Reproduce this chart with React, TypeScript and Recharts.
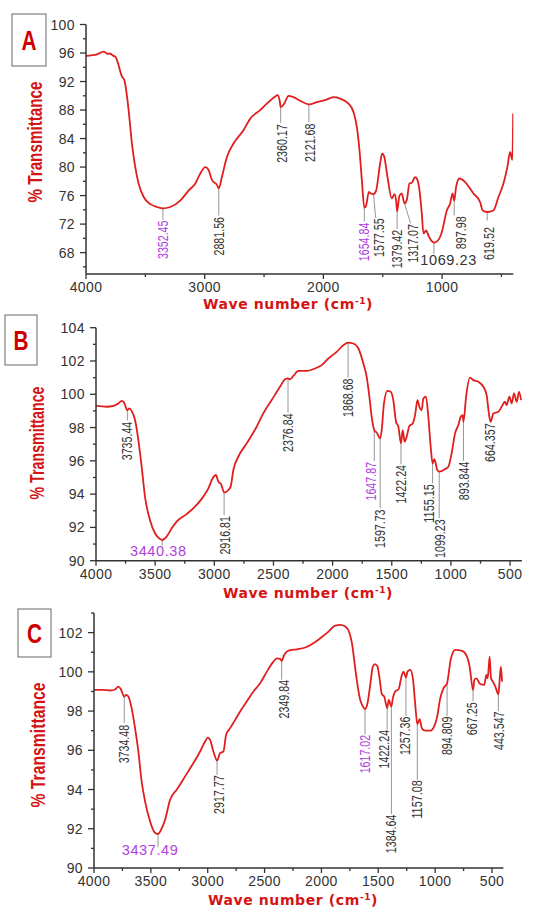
import React from "react";
import { LineChart, Line, XAxis, YAxis, ReferenceLine, ReferenceDot } from "recharts";

const RED = "#e01e1e";
const TITLE_RED = "#d41414";
const PURPLE = "#b03ee0";
const INK = "#333333";
const LEADER = "#8a8a8a";
const FONT = "'Liberation Sans', Arial, sans-serif";

// spectrum A
const A_WN = [
  4000, 3907, 3851, 3820, 3795, 3770, 3753, 3739, 3697, 3677,
  3641, 3613, 3585, 3557, 3514, 3458, 3400, 3352, 3290, 3206,
  3136, 3079, 3037, 2995, 2967, 2939, 2897, 2881, 2855, 2813,
  2757, 2672, 2616, 2532, 2476, 2406, 2386, 2369, 2360, 2330,
  2294, 2251, 2195, 2122, 2055, 1985, 1915, 1859, 1788, 1746,
  1718, 1696, 1676, 1655, 1640, 1617, 1600, 1578, 1556, 1522,
  1505, 1488, 1460, 1424, 1401, 1387, 1379, 1359, 1340, 1317,
  1297, 1275, 1255, 1227, 1213, 1190, 1171, 1157, 1134, 1115,
  1087, 1069, 1030, 1002, 960, 932, 912, 898, 882, 854,
  806, 736, 680, 657, 620, 568, 525, 483, 450, 427,
  408, 401,
];
const A_T = [
  95.6, 95.8, 96.2, 95.9, 95.9, 95.6, 95.5, 95.0, 92.7, 92.2,
  88.0, 83.3, 80.0, 77.7, 75.8, 74.8, 74.4, 74.2, 74.4, 75.3,
  76.7, 77.7, 79.1, 80.0, 79.6, 78.2, 77.5, 77.0, 78.6, 81.4,
  83.3, 85.2, 86.8, 88.0, 88.9, 89.9, 90.1, 89.4, 88.4, 88.9,
  90.0, 89.8, 89.3, 88.8, 89.1, 89.4, 89.8, 89.6, 88.9, 87.7,
  85.6, 82.4, 78.2, 74.3, 74.6, 76.5, 76.3, 76.2, 76.7, 80.5,
  81.9, 81.5, 78.6, 75.6, 76.2, 75.3, 73.8, 76.0, 76.3, 74.9,
  75.4, 77.7, 77.8, 78.6, 78.4, 76.7, 73.5, 70.7, 71.1, 70.4,
  69.6, 69.4, 69.8, 70.9, 73.9, 74.9, 76.3, 75.3, 77.2, 78.4,
  77.9, 76.3, 75.1, 73.9, 73.7, 73.9, 75.8, 77.7, 80.0, 82.1,
  81.0, 87.5,
];

// spectrum B
const B_WN = [
  4000, 3910, 3853, 3811, 3783, 3763, 3735, 3718, 3699, 3670,
  3642, 3614, 3586, 3544, 3501, 3459, 3440, 3403, 3360, 3318,
  3234, 3149, 3093, 3050, 3014, 2986, 2966, 2943, 2917, 2881,
  2862, 2839, 2797, 2726, 2642, 2586, 2515, 2445, 2402, 2377,
  2360, 2332, 2290, 2219, 2149, 2092, 2036, 1966, 1909, 1869,
  1825, 1782, 1740, 1712, 1689, 1670, 1648, 1628, 1598, 1585,
  1566, 1537, 1509, 1487, 1464, 1444, 1422, 1408, 1391, 1374,
  1351, 1323, 1303, 1283, 1267, 1247, 1233, 1211, 1191, 1171,
  1155, 1140, 1115, 1099, 1050, 1022, 994, 965, 937, 917,
  901, 894, 872, 839, 810, 768, 726, 698, 675, 664,
  641, 599, 571, 543, 529, 506, 486, 467, 444, 424,
  407,
];
const B_T = [
  99.3, 99.25, 99.3, 99.45, 99.6, 99.5, 99.05, 99.15, 99.0, 98.45,
  97.25, 95.65, 93.85, 92.45, 91.65, 91.3, 91.25, 91.45, 91.95, 92.35,
  92.8, 93.35, 93.85, 94.35, 94.95, 95.15, 94.75, 94.6, 94.1, 94.25,
  94.45, 95.45, 96.25, 97.05, 98.05, 98.85, 99.65, 100.45, 100.9, 100.95,
  100.9, 101.1, 101.4, 101.4, 101.55, 101.75, 102.15, 102.55, 102.95, 103.1,
  103.05, 102.75, 101.85, 101.05, 99.85, 98.65, 97.85, 97.7, 97.35, 97.85,
  99.45, 100.2, 100.15, 99.65, 98.35, 98.05, 97.05, 97.85, 97.15, 97.45,
  98.1, 98.25, 98.75, 99.65, 99.25, 99.05, 99.75, 99.85, 98.65, 96.85,
  95.85, 96.1, 95.45, 95.35, 95.5, 95.65, 96.45, 97.65, 98.15, 98.65,
  98.75, 98.35, 99.85, 101.0, 100.85, 100.75, 100.45, 99.95, 98.65, 98.35,
  98.85, 98.95, 99.25, 99.55, 99.35, 99.85, 99.45, 100.05, 99.55, 100.15,
  99.65,
];

// spectrum C
const C_WN = [
  4000, 3918, 3859, 3815, 3786, 3765, 3734, 3718, 3698, 3669,
  3639, 3610, 3581, 3551, 3507, 3469, 3437, 3410, 3375, 3331,
  3273, 3199, 3126, 3067, 3023, 3000, 2979, 2950, 2918, 2891,
  2862, 2838, 2803, 2759, 2715, 2657, 2598, 2539, 2480, 2422,
  2393, 2363, 2350, 2328, 2290, 2216, 2143, 2085, 2011, 1938,
  1879, 1835, 1791, 1753, 1732, 1703, 1683, 1659, 1635, 1617,
  1595, 1571, 1548, 1530, 1507, 1489, 1469, 1448, 1422, 1408,
  1385, 1372, 1351, 1322, 1293, 1278, 1257, 1243, 1219, 1196,
  1175, 1157, 1137, 1117, 1087, 1043, 1014, 985, 955, 926,
  895, 885, 861, 823, 764, 720, 697, 667, 655, 638,
  603, 568, 550, 538, 521, 509, 492, 471, 444, 436,
  422, 412,
];
const C_T = [
  99.08, 99.08, 99.05, 99.1, 99.25, 99.13, 98.74, 98.83, 98.74, 98.15,
  97.13, 95.94, 94.41, 93.4, 92.38, 91.83, 91.73, 91.95, 92.46, 93.48,
  93.99, 94.67, 95.35, 95.94, 96.45, 96.65, 96.53, 95.94, 95.48, 95.86,
  95.94, 96.79, 97.13, 97.55, 97.98, 98.49, 99.0, 99.42, 100.01, 100.52,
  100.69, 100.66, 100.56, 100.86, 101.08, 101.15, 101.24, 101.41, 101.71, 102.05,
  102.36, 102.39, 102.31, 101.97, 101.46, 100.18, 99.34, 98.57, 98.23, 98.1,
  98.4, 99.34, 100.27, 100.39, 100.27, 99.67, 98.86, 98.74, 98.15, 98.57,
  98.23, 98.66, 99.0, 99.11, 99.84, 100.01, 99.71, 100.01, 100.1, 99.67,
  98.32, 97.33, 97.59, 97.13, 97.0, 97.0, 97.16, 97.64, 98.66, 99.17,
  99.42, 99.76, 100.69, 101.12, 101.07, 100.78, 100.27, 99.08, 99.59, 99.67,
  99.37, 99.34, 99.84, 99.67, 100.78, 99.67, 99.5, 99.25, 98.86, 99.34,
  100.27, 99.5,
];

// tick values
const A_X_MAJOR = [4000, 3000, 2000, 1000];
const A_X_MINOR = [3500, 2500, 1500, 500];
const A_Y_MAJOR = [68, 72, 76, 80, 84, 88, 92, 96, 100];
const A_Y_MINOR = [66, 70, 74, 78, 82, 86, 90, 94, 98];
const BC_X_MAJOR = [4000, 3500, 3000, 2500, 2000, 1500, 1000, 500];
const BC_X_MINOR = [3750, 3250, 2750, 2250, 1750, 1250, 750];
const B_Y_MAJOR = [90, 92, 94, 96, 98, 100, 102, 104];
const B_Y_MINOR = [91, 93, 95, 97, 99, 101, 103];
const C_Y_MAJOR = [90, 92, 94, 96, 98, 100, 102];
const C_Y_MINOR = [91, 93, 95, 97, 99, 101, 103];

// peak labels: x,y = point on spectrum, ey = end of leader, lx,ly = label anchor
type Ann = { t: string; x: number; y: number; ey: number; lx: number; ly: number; ex?: number; p?: boolean; h?: boolean };

const A_PEAKS: Ann[] = [
  { t: "3352.45", x: 3352, y: 74.2, ey: 72.6, lx: 3352, ly: 72.5, p: true },
  { t: "2881.56", x: 2881, y: 77.0, ey: 73.2, lx: 2881, ly: 73.0 },
  { t: "2360.17", x: 2360, y: 88.4, ey: 86.2, lx: 2352, ly: 86.0 },
  { t: "2121.68", x: 2122, y: 88.8, ey: 86.3, lx: 2118, ly: 86.1 },
  { t: "1654.84", x: 1655, y: 74.3, ey: 72.4, lx: 1658, ly: 72.2, p: true },
  { t: "1577.55", x: 1578, y: 76.2, ey: 72.9, lx: 1530, ly: 72.8, ex: 1560 },
  { t: "1379.42", x: 1379, y: 73.8, ey: 71.3, lx: 1378, ly: 71.2 },
  { t: "1317.07", x: 1317, y: 74.9, ey: 72.1, lx: 1250, ly: 72.0, ex: 1265 },
  { t: "1069.23", x: 1069, y: 69.4, ey: 67.8, lx: 945, ly: 66.3, h: true },
  { t: "897.98", x: 898, y: 75.3, ey: 73.2, lx: 842, ly: 73.1 },
  { t: "619.52", x: 620, y: 73.7, ey: 72.5, lx: 605, ly: 71.6 },
];

const B_PEAKS: Ann[] = [
  { t: "3735.44", x: 3735, y: 99.05, ey: 98.42, lx: 3741, ly: 98.35 },
  { t: "3440.38", x: 3440, y: 91.25, ey: 90.9, lx: 3473, ly: 90.3, h: true, p: true },
  { t: "2916.81", x: 2917, y: 94.1, ey: 92.75, lx: 2915, ly: 92.68 },
  { t: "2376.84", x: 2377, y: 100.95, ey: 98.9, lx: 2383, ly: 98.85 },
  { t: "1868.68", x: 1869, y: 103.1, ey: 101.0, lx: 1875, ly: 100.95 },
  { t: "1647.87", x: 1648, y: 97.85, ey: 96.0, lx: 1678, ly: 95.93, p: true },
  { t: "1597.73", x: 1598, y: 97.35, ey: 93.15, lx: 1600, ly: 93.08 },
  { t: "1422.24", x: 1422, y: 97.05, ey: 95.78, lx: 1425, ly: 95.75 },
  { t: "1155.15", x: 1155, y: 95.85, ey: 94.65, lx: 1191, ly: 94.6 },
  { t: "1099.23", x: 1099, y: 95.35, ey: 92.55, lx: 1092, ly: 92.48 },
  { t: "893.844", x: 894, y: 98.35, ey: 96.0, lx: 895, ly: 95.95 },
  { t: "664.357", x: 664, y: 98.35, ey: 98.3, lx: 669, ly: 98.25 },
];

const C_PEAKS: Ann[] = [
  { t: "3734.48", x: 3734, y: 98.74, ey: 97.4, lx: 3742, ly: 97.3 },
  { t: "3437.49", x: 3437, y: 91.73, ey: 91.05, lx: 3507, ly: 90.65, h: true, p: true },
  { t: "2917.77", x: 2918, y: 95.48, ey: 94.75, lx: 2906, ly: 94.72 },
  { t: "2349.84", x: 2350, y: 100.56, ey: 99.6, lx: 2334, ly: 99.59 },
  { t: "1617.02", x: 1617, y: 98.1, ey: 96.8, lx: 1621, ly: 96.79, p: true },
  { t: "1422.24", x: 1422, y: 98.15, ey: 97.05, lx: 1454, ly: 97.04 },
  { t: "1384.64", x: 1385, y: 98.23, ey: 92.75, lx: 1389, ly: 92.72 },
  { t: "1257.36", x: 1257, y: 99.71, ey: 97.75, lx: 1269, ly: 97.72 },
  { t: "1157.08", x: 1157, y: 97.33, ey: 94.5, lx: 1160, ly: 94.48 },
  { t: "894.809", x: 895, y: 99.42, ey: 97.75, lx: 897, ly: 97.72 },
  { t: "667.25", x: 667, y: 99.08, ey: 98.5, lx: 674, ly: 98.45 },
  { t: "443.547", x: 444, y: 98.86, ey: 98.0, lx: 442, ly: 97.98 },
];

const toRows = (wn: number[], t: number[]) => wn.map((w, i) => ({ wn: w, t: t[i] }));

const XTick = (props: any) => {
  const { x, y, payload, major } = props;
  const isMajor = major.includes(payload.value);
  return (
    <g>
      <line x1={x} x2={x} y1={y} y2={y + (isMajor ? 5 : 3)} stroke={INK} strokeWidth={1.3} />
      {isMajor && (
        <text x={x} y={y + 18} textAnchor="middle" fontSize={14} letterSpacing={0.4} fill={INK} fontFamily={FONT}>
          {payload.value}
        </text>
      )}
    </g>
  );
};

const YTick = (props: any) => {
  const { x, y, payload, major } = props;
  const isMajor = major.includes(payload.value);
  return (
    <g>
      <line x1={x - (isMajor ? 6 : 3)} x2={x} y1={y} y2={y} stroke={INK} strokeWidth={1.3} />
      {isMajor && (
        <text x={x - 11} y={y} dy={5} textAnchor="end" fontSize={14} letterSpacing={0.4} fill={INK} fontFamily={FONT}>
          {payload.value}
        </text>
      )}
    </g>
  );
};

const PeakLabel = ({ cx, cy, a }: { cx: number; cy: number; a: Ann }) => {
  const fill = a.p ? PURPLE : INK;
  if (a.h) {
    return (
      <text x={cx} y={cy} textAnchor="middle" fontSize={14.5} letterSpacing={0.6} fill={fill} fontFamily={FONT}>
        {a.t}
      </text>
    );
  }
  return (
    <text
      x={cx}
      y={cy}
      transform={`rotate(-90 ${cx} ${cy})`}
      textAnchor="end"
      dy="0.36em"
      fontSize={14.5}
      fill={fill}
      fontFamily={FONT}
      textLength={a.t.length * 5.5}
      lengthAdjust="spacingAndGlyphs"
    >
      {a.t}
    </text>
  );
};

type PanelProps = {
  rows: { wn: number; t: number }[];
  top: number;
  height: number;
  margin: { top: number; right: number; left: number; bottom: number };
  yDomain: [number, number];
  xMajor: number[];
  xMinor: number[];
  yMajor: number[];
  yMinor: number[];
  peaks: Ann[];
};

const Panel = ({ rows, top, height, margin, yDomain, xMajor, xMinor, yMajor, yMinor, peaks }: PanelProps) => (
  <div style={{ position: "absolute", left: 0, top }}>
    <LineChart width={544} height={height} data={rows} margin={margin}>
      <XAxis
        dataKey="wn"
        type="number"
        domain={[400, 4000]}
        reversed
        allowDataOverflow
        ticks={[...xMajor, ...xMinor]}
        interval={0}
        height={26}
        tickSize={0}
        tickMargin={0}
        tickLine={false}
        axisLine={{ stroke: INK, strokeWidth: 1.5 }}
        tick={(p: any) => <XTick {...p} major={xMajor} />}
      />
      <YAxis
        type="number"
        domain={yDomain}
        allowDataOverflow
        ticks={[...yMajor, ...yMinor]}
        interval={0}
        width={60}
        tickSize={0}
        tickMargin={0}
        tickLine={false}
        axisLine={{ stroke: INK, strokeWidth: 1.5 }}
        tick={(p: any) => <YTick {...p} major={yMajor} />}
      />
      {peaks.map((a) => (
        <ReferenceLine
          key={"l" + a.t}
          segment={[
            { x: a.x, y: a.y },
            { x: a.ex ?? a.x, y: a.ey },
          ]}
          stroke={LEADER}
          strokeWidth={0.9}
          ifOverflow="visible"
        />
      ))}
      <Line
        type="monotone"
        dataKey="t"
        stroke={RED}
        strokeWidth={1.8}
        dot={false}
        isAnimationActive={false}
      />
      {peaks.map((a) => (
        <ReferenceDot
          key={"d" + a.t}
          x={a.lx}
          y={a.ly}
          r={0}
          ifOverflow="visible"
          shape={(p: any) => <PeakLabel cx={p.cx} cy={p.cy} a={a} />}
        />
      ))}
    </LineChart>
  </div>
);

const XTitle = ({ cx, y }: { cx: number; y: number }) => (
  <text
    x={cx}
    y={y}
    textAnchor="middle"
    fontFamily="'DejaVu Sans', Verdana, sans-serif"
    fontWeight="bold"
    fontSize={14}
    letterSpacing={0.6}
    fill={TITLE_RED}
  >
    Wave number (cm
    <tspan dy={-5} fontSize={9}>-1</tspan>
    <tspan dy={5}>)</tspan>
  </text>
);

const YTitle = ({ cx, cy, len }: { cx: number; cy: number; len: number }) => (
  <text
    x={0}
    y={0}
    transform={`translate(${cx} ${cy}) rotate(-90)`}
    textAnchor="middle"
    dy="0.35em"
    fontFamily={FONT}
    fontWeight="bold"
    fontSize={21}
    fill={TITLE_RED}
    textLength={len}
    lengthAdjust="spacingAndGlyphs"
  >
    % Transmittance
  </text>
);

const Tag = ({ x, y, w, h, letter }: { x: number; y: number; w: number; h: number; letter: string }) => (
  <g>
    <rect x={x} y={y} width={w} height={h} fill="#fff" stroke="#666" strokeWidth={1} />
    <text
      x={x + w / 2}
      y={y + h / 2 + 10}
      textAnchor="middle"
      fontFamily={FONT}
      fontWeight="bold"
      fontSize={28}
      fill="#cc0000"
      textLength={15}
      lengthAdjust="spacingAndGlyphs"
    >
      {letter}
    </text>
  </g>
);

export default function App() {
  return (
    <div style={{ position: "absolute", left: 0, top: 0, width: 544, height: 907, background: "#fff", overflow: "hidden" }}>
      <Panel
        rows={toRows(A_WN, A_T)}
        top={0}
        height={300}
        margin={{ top: 24.5, right: 30.7, left: 26, bottom: 0 }}
        yDomain={[65, 100]}
        xMajor={A_X_MAJOR}
        xMinor={A_X_MINOR}
        yMajor={A_Y_MAJOR}
        yMinor={A_Y_MINOR}
        peaks={A_PEAKS}
      />
      <Panel
        rows={toRows(B_WN, B_T)}
        top={300}
        height={287}
        margin={{ top: 27.7, right: 22.1, left: 36, bottom: 0.3 }}
        yDomain={[90, 104]}
        xMajor={BC_X_MAJOR}
        xMinor={BC_X_MINOR}
        yMajor={B_Y_MAJOR}
        yMinor={B_Y_MINOR}
        peaks={B_PEAKS}
      />
      <Panel
        rows={toRows(C_WN, C_T)}
        top={600}
        height={294}
        margin={{ top: 13, right: 40.6, left: 34, bottom: 0 }}
        yDomain={[90, 103]}
        xMajor={BC_X_MAJOR}
        xMinor={BC_X_MINOR}
        yMajor={C_Y_MAJOR}
        yMinor={C_Y_MINOR}
        peaks={C_PEAKS}
      />
      <svg width={544} height={907} style={{ position: "absolute", left: 0, top: 0, pointerEvents: "none" }}>
        <Tag x={12} y={14} w={34} h={52} letter="A" />
        <Tag x={5} y={315} w={32} h={50} letter="B" />
        <Tag x={18} y={609} w={33} h={48} letter="C" />
        <YTitle cx={35} cy={142} len={121} />
        <YTitle cx={37} cy={443} len={113} />
        <YTitle cx={38} cy={745} len={125} />
        <XTitle cx={288} y={309} />
        <XTitle cx={308} y={598} />
        <XTitle cx={293} y={905} />
      </svg>
    </div>
  );
}
